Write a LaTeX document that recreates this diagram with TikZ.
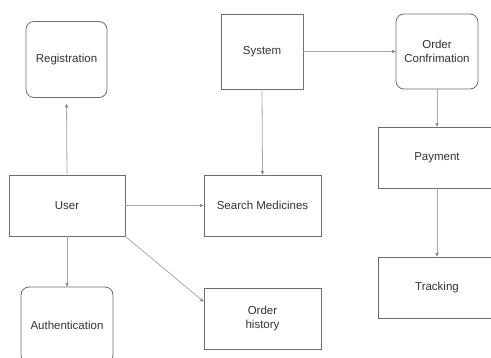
\documentclass[tikz,border=0pt]{standalone}
\usepackage{fontspec}
\setmainfont{Liberation Sans}
\usetikzlibrary{arrows.meta,calc}
\definecolor{boxline}{HTML}{6E6E6E}
\definecolor{arrline}{HTML}{A8A8A8}
\definecolor{arrhead}{HTML}{7A7A7A}
\definecolor{txt}{HTML}{333333}
\begin{document}
\begin{tikzpicture}[x=1pt,y=1pt,
  box/.style={draw=boxline,line width=0.8pt,fill=white,inner sep=2pt,align=center,
    text=txt,font=\fontsize{11.5}{14}\selectfont},
  rbox/.style={box,rounded corners=8pt},
  conn/.style={draw=arrline,line width=0.8pt,-{Stealth[length=4pt,width=3.5pt,color=arrhead]}}]
\useasboundingbox (0,0) rectangle (491,-357);
\node[rbox,minimum width=81,minimum height=76] (reg) at (66.5,-59.5) {Registration};
\node[box,minimum width=82,minimum height=75] (sys) at (262,-51.5) {System};
\node[rbox,minimum width=82,minimum height=75] (oc) at (437,-51.5) {Order\\Confrimation};
\node[box,minimum width=118,minimum height=61] (pay) at (437,-157.5) {Payment};
\node[box,minimum width=118,minimum height=61] (track) at (437,-287.5) {Tracking};
\node[box,minimum width=116,minimum height=61] (user) at (67,-205.5) {User};
\node[box,minimum width=117,minimum height=61] (search) at (262.5,-205.5) {Search Medicines};
\node[rbox,minimum width=92,minimum height=76] (auth) at (67,-325) {Authentication};
\node[box,minimum width=117,minimum height=61] (hist) at (262.5,-318.5) {Order\\history};
\coordinate (histin) at ($(hist.north west)+(0,-14)$);
\draw[conn,shorten >=6pt] (user.north) -- (reg.south);
\draw[conn] (user.south) -- (auth.north);
\draw[conn] (user.east) -- (search.west);
\draw[conn] (user.south east) -- (histin);
\draw[conn] (sys.south) -- (search.north);
\draw[conn] (sys.east) -- (oc.west);
\draw[conn] (oc.south) -- (pay.north);
\draw[conn] (pay.south) -- (track.north);
\end{tikzpicture}
\end{document}
